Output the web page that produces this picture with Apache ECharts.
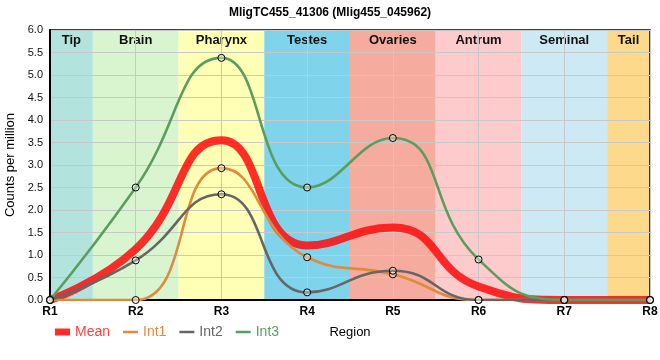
<!DOCTYPE html>
<html><head><meta charset="utf-8">
<script src="https://cdn.jsdelivr.net/npm/echarts@6/dist/echarts.min.js"></script>
<style>html,body{margin:0;padding:0;background:#fff}#c{width:660px;height:360px}</style>
</head><body><div id="c"></div>
<script>
const titleText = 'MligTC455_41306 (Mlig455_045962)';
const categories = ['R1','R2','R3','R4','R5','R6','R7','R8'];
const mean = [0, 1.13, 3.55, 1.21, 1.61, 0.30, 0, 0];
const int1 = [0, 0, 2.93, 0.95, 0.57, 0, 0, 0];
const int2 = [0, 0.88, 2.35, 0.17, 0.65, 0, 0, 0];
const int3 = [0, 2.50, 5.38, 2.50, 3.60, 0.90, 0, 0];
const yTicks = [0,0.5,1,1.5,2,2.5,3,3.5,4,4.5,5,5.5,6];
const bandNames = ['Tip','Brain','Pharynx','Testes','Ovaries','Antrum','Seminal','Tail'];
const bandEdges = [0,0.5,1.5,2.5,3.5,4.5,5.5,6.5,7];
const bandColors = ['#b3e3dd','#d9f5d0','#ffffb5','#7fd3ea','#f5ab9d','#fdcbcb','#cdeaf4','#fdd98b'];

const FONT = '"Liberation Sans", Arial, sans-serif';
const pairs = arr => arr.map((v,i)=>[i,v]);

const bandData = bandNames.map((n,i)=>[
  {name:n, xAxis:bandEdges[i], yAxis:0, itemStyle:{color:bandColors[i]}},
  {xAxis:bandEdges[i+1], yAxis:6}
]);

const intStyle = (color)=>({
  type:'line', smooth:0.5, symbol:'circle', symbolSize:7, showSymbol:true,
  lineStyle:{color:color, width:2.6},
  itemStyle:{color:'rgba(255,255,255,0.35)', borderColor:'#000', borderWidth:1},
  emphasis:{disabled:true}
});

const chart = echarts.init(document.getElementById('c'), null, {renderer:'canvas'});
chart.setOption({
  animation:false,
  backgroundColor:'#fff',
  textStyle:{fontFamily:FONT},
  title:{text:titleText, left:'center', top:2, textStyle:{fontSize:12, fontWeight:'bold', color:'#000', fontFamily:FONT}},
  grid:{left:50, right:10, top:30, bottom:60, containLabel:false, outerBoundsMode:'none',
        show:true, borderColor:'#000', borderWidth:1.5, backgroundColor:'transparent'},
  legend:{
    left:55, top:325, padding:0, itemWidth:15, itemHeight:14, itemGap:13,
    textStyle:{fontSize:14, fontFamily:FONT},
    data:[
      {name:'Mean', icon:'path://M0,0H15V7H0Z', itemStyle:{color:'#ff2a2a', borderWidth:0}, textStyle:{color:'#ff4040'}},
      {name:'Int1', icon:'path://M0,0H24V4H0Z', itemStyle:{color:'#e08a3c', borderWidth:0}, textStyle:{color:'#e08a3c'}},
      {name:'Int2', icon:'path://M0,0H24V4H0Z', itemStyle:{color:'#666666', borderWidth:0}, textStyle:{color:'#666666'}},
      {name:'Int3', icon:'path://M0,0H24V4H0Z', itemStyle:{color:'#5a9e5e', borderWidth:0}, textStyle:{color:'#5a9e5e'}}
    ]
  },
  xAxis:{
    type:'value', min:0, max:categories.length-1, interval:1,
    name:'Region', nameLocation:'middle', nameGap:26,
    nameTextStyle:{fontSize:13, color:'#000', fontFamily:FONT},
    axisLine:{show:true, lineStyle:{color:'#000', width:2}},
    axisTick:{show:false},
    axisLabel:{formatter:v=>categories[v]||'', fontSize:12, fontWeight:'bold', color:'#000', margin:6, fontFamily:FONT},
    splitLine:{show:true, lineStyle:{color:'#c8c8c8', width:1}}
  },
  yAxis:{
    type:'value', min:0, max:6, interval:0.5,
    name:'Counts per million', nameLocation:'middle', nameGap:28,
    nameTextStyle:{fontSize:13, color:'#000', fontFamily:FONT},
    axisLine:{show:true, lineStyle:{color:'#000', width:2}},
    axisTick:{show:false},
    axisLabel:{formatter:v=>v.toFixed(1), fontSize:11, color:'#111', margin:7, fontFamily:FONT},
    splitLine:{show:true, lineStyle:{color:'#c8c8c8', width:1}}
  },
  series:[
    {name:'bands', type:'line', data:[], z:-1, silent:true,
     markArea:{z:-1, silent:true, data:bandData,
       label:{show:true, position:'insideTop', distance:4, fontSize:13, fontWeight:'bold', color:'#111', fontFamily:FONT}}},
    {name:'Mean', type:'line', smooth:0.5, symbol:'none', data:pairs(mean),
     lineStyle:{color:'rgba(255,10,10,0.85)', width:8}, emphasis:{disabled:true}},
    Object.assign({name:'Int1', data:pairs(int1)}, intStyle('#e08a3c')),
    Object.assign({name:'Int2', data:pairs(int2)}, intStyle('#666666')),
    Object.assign({name:'Int3', data:pairs(int3)}, intStyle('#5a9e5e'))
  ]
});
</script>
</body></html>
